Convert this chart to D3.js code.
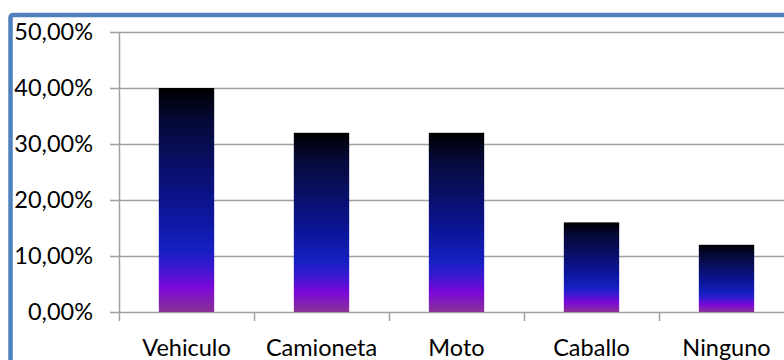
<!DOCTYPE html>
<html>
<head>
<meta charset="utf-8">
<script src="https://cdn.jsdelivr.net/npm/d3@7"></script>
<style>
  html, body { margin: 0; padding: 0; background: #fff; }
  svg { display: block; }
</style>
</head>
<body>
<svg id="chart" width="784" height="360"></svg>
<script>
// Transport used (share of respondents)
const categories = ["Vehiculo", "Camioneta", "Moto", "Caballo", "Ninguno"];
const values = [0.40, 0.32, 0.32, 0.16, 0.12];
const yTicks = [0, 0.1, 0.2, 0.3, 0.4, 0.5];

const svg = d3.select("#chart");
const W = 784, H = 360;
const margin = { left: 119, top: 32, bottom: 48 };
const bandW = 135;
const plotRight = margin.left + bandW * categories.length;

const x = d3.scaleBand().domain(categories)
  .range([margin.left, plotRight]).paddingInner(0.59).paddingOuter(0.295);
const y = d3.scaleLinear().domain([0, 0.5]).range([H - margin.bottom, margin.top]);

const fmt = v => d3.format(".2f")(v * 100).replace(".", ",") + "%";
const font = "Lato, 'Open Sans', sans-serif";

// vertical gradient applied to each bar
const defs = svg.append("defs");
const grad = defs.append("linearGradient").attr("id", "barGrad")
  .attr("x1", 0).attr("y1", 0).attr("x2", 0).attr("y2", 1);
[
  [0, "#000000"], [0.15, "#050938"], [0.35, "#090f68"], [0.55, "#0c1598"],
  [0.72, "#1520c2"], [0.80, "#3a18d0"], [0.89, "#7a08d8"], [1, "#8a3296"]
].forEach(([o, c]) => grad.append("stop").attr("offset", o).attr("stop-color", c));

// gridlines
svg.append("g").selectAll("line").data(yTicks).join("line")
  .attr("x1", margin.left - 9).attr("x2", W)
  .attr("y1", d => Math.round(y(d)) + 0.5).attr("y2", d => Math.round(y(d)) + 0.5)
  .attr("stroke", "#a0a0a0").attr("stroke-width", 1.5);

// y-axis line
svg.append("line")
  .attr("x1", margin.left + 0.5).attr("x2", margin.left + 0.5)
  .attr("y1", y(0.5)).attr("y2", y(0) + 9)
  .attr("stroke", "#a0a0a0").attr("stroke-width", 1.5);

// category tick marks
const xTickPos = d3.range(1, categories.length).map(i => margin.left + i * bandW);
svg.append("g").selectAll("line").data(xTickPos).join("line")
  .attr("x1", d => d + 0.5).attr("x2", d => d + 0.5)
  .attr("y1", y(0)).attr("y2", y(0) + 9)
  .attr("stroke", "#a0a0a0").attr("stroke-width", 1.5);

// y labels
svg.append("g").selectAll("text").data(yTicks).join("text")
  .attr("x", 93).attr("y", d => y(d) + 8)
  .attr("text-anchor", "end")
  .attr("font-family", font)
  .attr("font-size", 23.5).attr("fill", "#000")
  .text(fmt);

// bars
svg.append("g").selectAll("rect").data(values).join("rect")
  .attr("x", (d, i) => x(categories[i]))
  .attr("width", x.bandwidth())
  .attr("y", d => y(d))
  .attr("height", d => y(0) - y(d))
  .attr("fill", "url(#barGrad)");

// category labels
svg.append("g").selectAll("text").data(categories).join("text")
  .attr("x", d => x(d) + x.bandwidth() / 2).attr("y", 356)
  .attr("text-anchor", "middle")
  .attr("font-family", font)
  .attr("font-size", 23.5).attr("fill", "#000")
  .text(d => d);

// chart area frame
svg.append("path")
  .attr("d", `M10.5,${H + 5} L10.5,18 Q10.5,15 13.5,15 L${W + 5},15`)
  .attr("fill", "none").attr("stroke", "#4f81bd").attr("stroke-width", 4.5);
</script>
</body>
</html>
